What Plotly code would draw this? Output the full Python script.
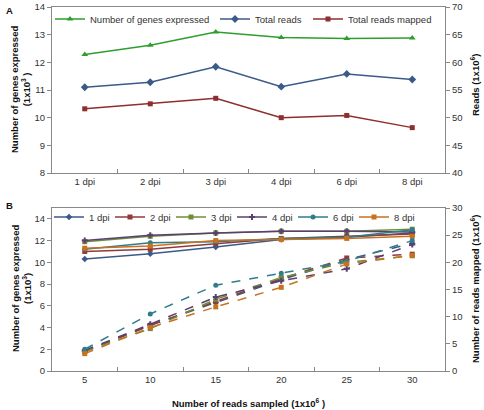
import plotly.graph_objects as go

# Panel A data
dpi_labels = ["1 dpi", "2 dpi", "3 dpi", "4 dpi", "6 dpi", "8 dpi"]
genes_expressed = [12.28, 12.62, 13.1, 12.9, 12.86, 12.88]
total_reads = [55.5, 56.4, 59.2, 55.6, 57.9, 56.9]
total_reads_mapped = [51.6, 52.5, 53.5, 50.0, 50.4, 48.2]

# Panel B data
reads_sampled = ["5", "10", "15", "20", "25", "30"]
series_names = ["1 dpi", "2 dpi", "3 dpi", "4 dpi", "6 dpi", "8 dpi"]
genes_1dpi = [10.3, 10.8, 11.4, 12.1, 12.3, 12.7]
genes_2dpi = [11.0, 11.2, 11.7, 12.2, 12.4, 12.6]
genes_3dpi = [11.9, 12.4, 12.7, 12.85, 12.85, 13.05]
genes_4dpi = [12.0, 12.5, 12.7, 12.85, 12.85, 12.8]
genes_6dpi = [11.2, 11.8, 11.9, 12.2, 12.3, 13.0]
genes_8dpi = [11.3, 11.5, 12.0, 12.1, 12.2, 12.4]
mapped_1dpi = [3.6, 8.4, 12.6, 16.8, 20.5, 23.5]
mapped_2dpi = [3.6, 8.4, 12.8, 17.0, 20.8, 21.5]
mapped_3dpi = [3.6, 7.8, 13.2, 17.2, 20.0, 21.2]
mapped_4dpi = [3.8, 8.6, 13.6, 16.6, 18.8, 23.3]
mapped_6dpi = [4.0, 10.5, 15.8, 18.0, 20.2, 24.0]
mapped_8dpi = [3.2, 8.0, 11.8, 15.4, 19.7, 21.3]

genes_B = [genes_1dpi, genes_2dpi, genes_3dpi, genes_4dpi, genes_6dpi, genes_8dpi]
mapped_B = [mapped_1dpi, mapped_2dpi, mapped_3dpi, mapped_4dpi, mapped_6dpi, mapped_8dpi]

colors_B = ["#3A5A88", "#8E3B3B", "#6E8F3A", "#5B3F72", "#2F7D8C", "#C8711F"]
symbols_B = ["diamond", "square", "square", "cross", "circle", "square"]

FONT = "Liberation Sans, Arial, sans-serif"
AX = "#888888"
FS = 9.5

# layout geometry (pixels) used to place legends and side titles
W, H = 484, 410
L, R, T, B = 52, 39, 7, 39
PW, PH = W - L - R, H - T - B


def px_x(p):
    return (p - L) / PW


def px_y(p):
    return (H - B - p) / PH


fig = go.Figure()

# Panel A
legA = ["legend", "legend3", "legend4"]
fig.add_trace(go.Scatter(x=dpi_labels, y=genes_expressed, name="Number of genes expressed",
                         mode="lines+markers", line=dict(color="#2E9E2E", width=1.5),
                         marker=dict(symbol="triangle-up", size=6, color="#2E9E2E"),
                         xaxis="x", yaxis="y", legend=legA[0]))
fig.add_trace(go.Scatter(x=dpi_labels, y=total_reads, name="Total reads",
                         mode="lines+markers", line=dict(color="#3A5A88", width=1.5),
                         marker=dict(symbol="diamond", size=6, color="#3A5A88"),
                         xaxis="x", yaxis="y2", legend=legA[1]))
fig.add_trace(go.Scatter(x=dpi_labels, y=total_reads_mapped, name="Total reads mapped",
                         mode="lines+markers", line=dict(color="#8E2E2E", width=1.5),
                         marker=dict(symbol="square", size=5, color="#8E2E2E"),
                         xaxis="x", yaxis="y2", legend=legA[2]))

# Panel B
legB = ["legend5", "legend6", "legend7", "legend8", "legend9", "legend10"]
for name, g, c, s, lg in zip(series_names, genes_B, colors_B, symbols_B, legB):
    fig.add_trace(go.Scatter(x=reads_sampled, y=g, name=name, mode="lines+markers",
                             line=dict(color=c, width=1.5),
                             marker=dict(symbol=s, size=5, color=c),
                             xaxis="x2", yaxis="y3", legend=lg))
for name, m, c, s in zip(series_names, mapped_B, colors_B, symbols_B):
    fig.add_trace(go.Scatter(x=reads_sampled, y=m, name=name, mode="lines+markers",
                             line=dict(color=c, width=1.5, dash="dash"),
                             marker=dict(symbol=s, size=5, color=c),
                             xaxis="x2", yaxis="y4", showlegend=False))

tickfont = dict(family=FONT, size=FS, color="#333333")
titlefont = dict(family=FONT, size=FS, color="#111111")

common_x = dict(showline=True, linecolor=AX, linewidth=1, mirror=True, ticks="inside",
                tickson="boundaries", ticklen=4, tickcolor=AX, showgrid=False,
                tickfont=tickfont, range=[-0.5, 5.5], type="category", zeroline=False,
                automargin=False)
common_y = dict(showline=True, linecolor=AX, linewidth=1, ticks="outside", ticklen=4,
                tickcolor=AX, showgrid=False, tickfont=tickfont, zeroline=False,
                automargin=False)


def leg(xpx, ypx):
    return dict(orientation="h", x=px_x(xpx), y=px_y(ypx), xanchor="left",
                yanchor="middle", bgcolor="rgba(0,0,0,0)",
                font=dict(family=FONT, size=FS, color="#333333"), itemwidth=30)


# legend text-start pixel positions -> legend box left = text start - 47
legA_pos = [(97 - 47, 19), (262 - 47, 19), (355 - 47, 19)]
legB_pos = [(t - 47, 217) for t in (96, 157, 218, 279, 340, 401)]

legends = {}
for name, (xp, yp) in zip(legA + legB, legA_pos + legB_pos):
    legends[name] = leg(xp, yp)

fig.update_layout(
    width=W, height=H,
    margin=dict(l=L, r=R, t=T, b=B, autoexpand=False),
    paper_bgcolor="white", plot_bgcolor="white",
    font=dict(family=FONT, size=FS, color="#333333"),
    xaxis=dict(domain=[0, 1], anchor="y", **common_x),
    yaxis=dict(domain=[px_y(173), 1], anchor="x", range=[8, 14], dtick=1, **common_y),
    yaxis2=dict(overlaying="y", side="right", anchor="x", range=[40, 70], dtick=5,
                **common_y),
    xaxis2=dict(domain=[0, 1], anchor="y3",
                title=dict(text="<b>Number of reads sampled (1x10<sup>6</sup> )</b>",
                           font=titlefont), **common_x),
    yaxis3=dict(domain=[0, px_y(208)], anchor="x2", range=[0, 15],
                tickvals=[0, 2, 4, 6, 8, 10, 12, 14], **common_y),
    yaxis4=dict(overlaying="y3", side="right", anchor="x2", range=[0, 30], dtick=5,
                **common_y),
    **legends,
)

# axis titles as rotated annotations (positions in pixels)
side_titles = [
    ("<b>Number of genes expressed<br>(1x10<sup>3</sup> )</b>", 21, 90),
    ("<b>Number of genes expressed<br>(1x10<sup>3</sup>)</b>", 21, 289),
    ("<b>Reads (1x10<sup>6</sup>)</b>", 475, 85),
    ("<b>Number of reads mapped (1x10<sup>6</sup>)</b>", 475, 289),
]
for txt, xp, yp in side_titles:
    fig.add_annotation(text=txt, xref="paper", yref="paper", x=px_x(xp), y=px_y(yp),
                       textangle=-90, showarrow=False, xanchor="center", yanchor="middle",
                       font=titlefont)

fig.add_annotation(text="<b>A</b>", xref="paper", yref="paper", x=px_x(4), y=px_y(3),
                   xanchor="left", yanchor="top", showarrow=False,
                   font=dict(family=FONT, size=FS, color="#111111"))
fig.add_annotation(text="<b>B</b>", xref="paper", yref="paper", x=px_x(4), y=px_y(198),
                   xanchor="left", yanchor="top", showarrow=False,
                   font=dict(family=FONT, size=FS, color="#111111"))

fig.write_html("out.html", config={"displayModeBar": False},
               post_script="document.body.style.margin='0';")
